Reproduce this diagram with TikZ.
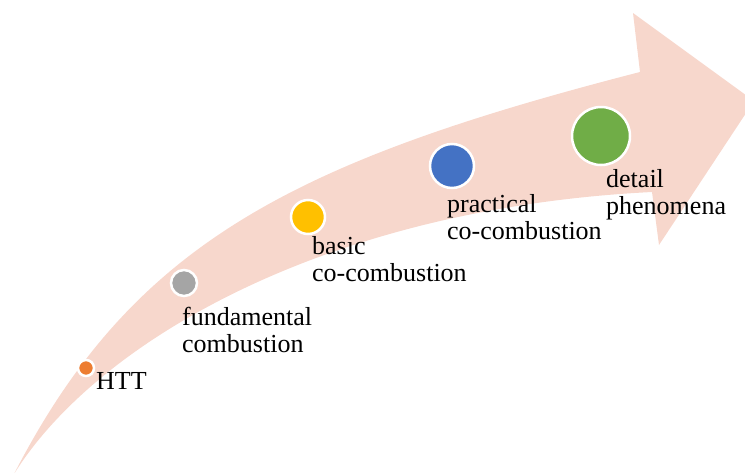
\documentclass[tikz,border=0pt]{standalone}
\usepackage{fontspec}
\setmainfont{Liberation Serif}
\begin{document}
\begin{tikzpicture}[x=1pt,y=-1pt,
  band/.style={fill=arrowpink},
  dot/.style={circle,draw=white,line width=2.5pt,inner sep=0pt},
  lbl/.style={anchor=base west,align=left,inner sep=0pt,
    font=\fontsize{26}{27}\selectfont}]
\definecolor{arrowpink}{HTML}{F7D7CC}
\definecolor{dotorange}{HTML}{ED7D31}
\definecolor{dotgrey}{HTML}{A5A5A5}
\definecolor{dotyellow}{HTML}{FFC000}
\definecolor{dotblue}{HTML}{4472C4}
\definecolor{dotgreen}{HTML}{70AD47}
\useasboundingbox (0,0) rectangle (745,472);
\begin{scope}
\clip (0,0) rectangle (745,472);
% curved arrow: pointed tail at bottom left, head at top right
\fill[band] (14,474) .. controls (132,245) and (290,162) .. (640,72)
  -- (633,13) -- (754,101) -- (659,245) -- (652,192)
  .. controls (322,208.5) and (95,344) .. (14,474) -- cycle;
\end{scope}
% milestones along the arrow
\node[dot,fill=dotorange,minimum size=16pt] (htt) at (86,368) {};
\node[dot,fill=dotgrey,minimum size=26pt] (fund) at (184,283) {};
\node[dot,fill=dotyellow,minimum size=34pt] (basic) at (308,217) {};
\node[dot,fill=dotblue,minimum size=44pt] (pract) at (452,166) {};
\node[dot,fill=dotgreen,minimum size=58pt] (detail) at (601,136) {};
% labels (base anchor sits on the last line)
\node[lbl] (httlbl) at (96,389) {HTT};
\node[lbl] (fundlbl) at (182,352) {fundamental\\combustion};
\node[lbl] (basiclbl) at (312,281) {basic\\co-combustion};
\node[lbl] (practlbl) at (447,239) {practical\\co-combustion};
\node[lbl] (detaillbl) at (606,214) {detail\\phenomena};
\end{tikzpicture}
\end{document}
